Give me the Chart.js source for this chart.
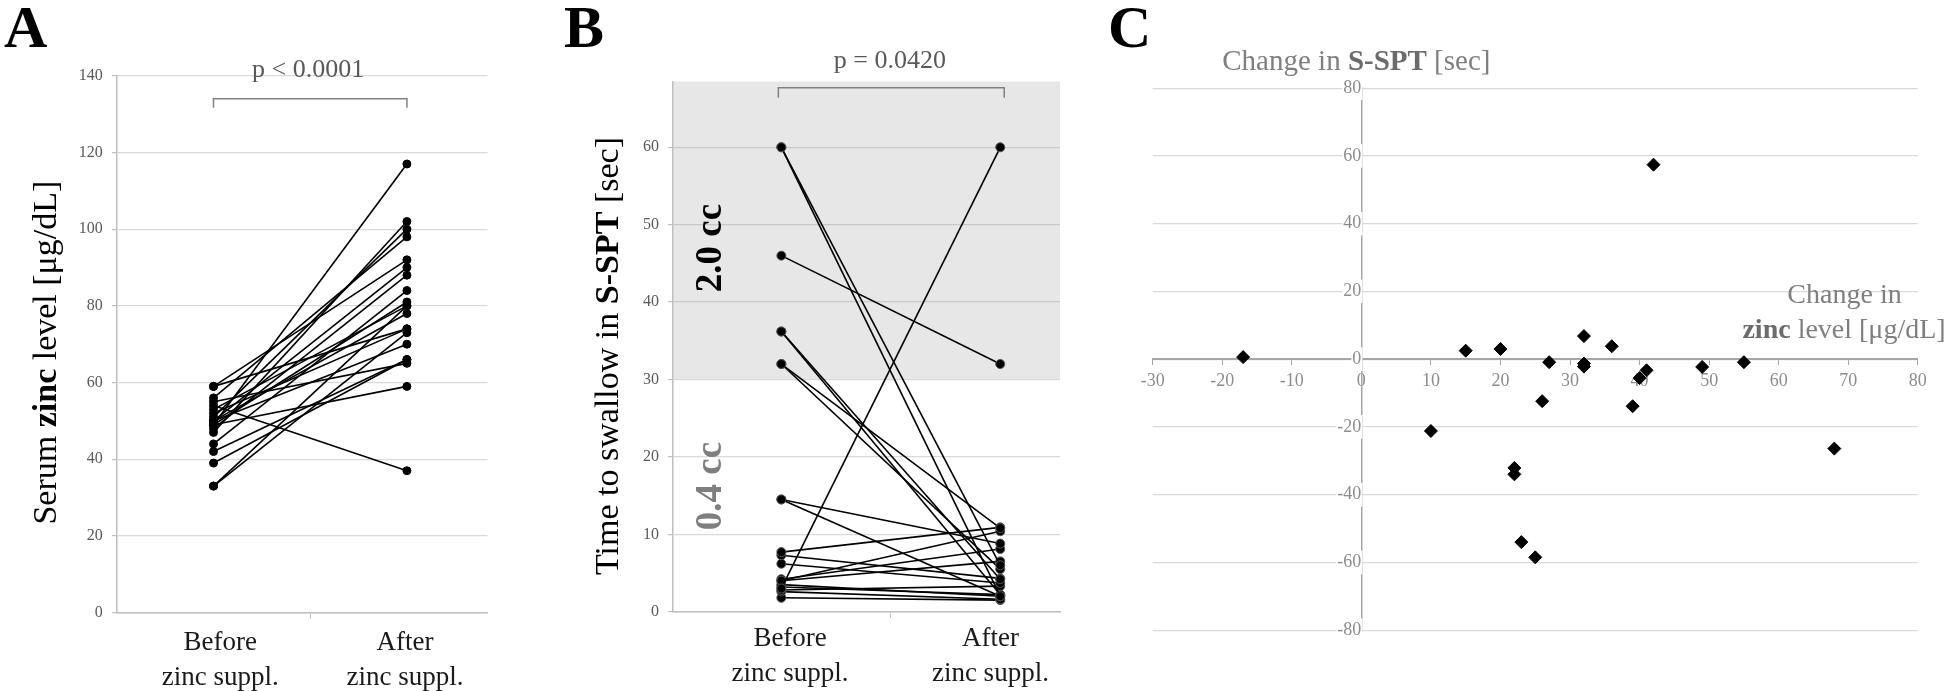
<!DOCTYPE html>
<html>
<head>
<meta charset="utf-8">
<script src="https://cdn.jsdelivr.net/npm/chart.js@4.4.1/dist/chart.umd.min.js"></script>
<style>
  html, body { margin: 0; padding: 0; background: #fff; overflow: hidden; }
  #wrap { position: relative; width: 1946px; height: 691px; background: #fff; }
  canvas { position: absolute; top: 0; }
</style>
</head>
<body>
<div id="wrap">
  <canvas id="ca" width="560" height="691" style="left:0px"></canvas>
  <canvas id="cb" width="550" height="691" style="left:560px"></canvas>
  <canvas id="cc" width="846" height="691" style="left:1100px"></canvas>
</div>
<script>
// ---------------- DATA ----------------
const categoryLines = [['Before', 'zinc suppl.'], ['After', 'zinc suppl.']];

// Panel A: serum zinc [µg/dL], paired (before -> after)
const zincBefore = [49, 47, 51, 56, 59, 50, 48, 44, 49, 33, 53, 50, 59, 52, 33, 50, 42, 39, 55, 49, 54];
const zincAfter  = [117, 102, 100, 98, 92, 90, 88, 84, 81, 80, 80, 78, 74, 74, 73, 70, 66, 66, 65, 59, 37];
const zincTicks = [0, 20, 40, 60, 80, 100, 120, 140];
const pTextA = 'p < 0.0001';

// Panel B: time to swallow in S-SPT [sec], paired
const ssptBefore = [60, 60, 46, 36.2, 36.2, 32, 32, 14.5, 14.5, 3.0, 4.0, 7.7, 7.3, 6.2, 4.2, 4.0, 3.5, 3.2, 2.8, 2.6, 1.8];
const ssptAfter  = [2.0, 6.0, 32, 2.2, 4.2, 10.8, 5.5, 2.0, 8.8, 60, 10.4, 10.9, 4.3, 3.7, 8.1, 6.5, 2.0, 2.2, 3.3, 1.6, 1.5];
const ssptTicks = [0, 10, 20, 30, 40, 50, 60];
const ssptThreshold = 30;     // above: 2.0 cc zone
const pTextB = 'p = 0.0420';

// Panel C: change in zinc vs change in S-SPT
const deltaZinc = [-17, 10, 15, 20, 22, 22, 23, 25, 26, 27, 32, 32, 32, 36, 39, 40, 41, 42, 49, 55, 68];
const deltaSspt = [0.6, -21.2, 2.5, 3.0, -32.1, -34.0, -54.0, -58.5, -12.4, -0.9, 6.8, -1.3, -2.2, 3.8, -13.9, -5.6, -3.3, 57.4, -2.3, -0.9, -26.4];
const deltaZincTicks = [-30, -20, -10, 0, 10, 20, 30, 40, 50, 60, 70, 80];
const deltaSsptTicks = [-80, -60, -40, -20, 0, 20, 40, 60, 80];

// ---------------- HELPERS ----------------
const FONT = "'Liberation Serif', 'Times New Roman', serif";
Chart.defaults.font.family = FONT;

function rich(ctx, parts, x, y, size, align, angle) {
  ctx.save();
  ctx.translate(x, y);
  if (angle) ctx.rotate(angle);
  ctx.textBaseline = 'alphabetic';
  ctx.textAlign = 'left';
  let w = 0;
  parts.forEach(p => {
    ctx.font = (p.b ? 'bold ' : '') + size + 'px ' + FONT;
    p.w = ctx.measureText(p.t).width;
    w += p.w;
  });
  let cx = align === 'center' ? -w / 2 : (align === 'right' ? -w : 0);
  parts.forEach(p => {
    ctx.font = (p.b ? 'bold ' : '') + size + 'px ' + FONT;
    ctx.fillStyle = p.c || '#000';
    ctx.fillText(p.t, cx, 0);
    cx += p.w;
  });
  ctx.restore();
}

function bracket(ctx, x0, x1, y, drop) {
  ctx.save();
  ctx.strokeStyle = '#808080';
  ctx.lineWidth = 1.5;
  ctx.beginPath();
  ctx.moveTo(x0, y + drop);
  ctx.lineTo(x0, y);
  ctx.lineTo(x1, y);
  ctx.lineTo(x1, y + drop);
  ctx.stroke();
  ctx.restore();
}

function pairedDatasets(before, after, ptBorder, r) {
  return before.map((b, i) => ({
    data: [{ x: 0, y: b }, { x: 1, y: after[i] }],
    borderColor: '#000',
    borderWidth: 1.6,
    pointRadius: r,
    pointBackgroundColor: '#000',
    pointBorderColor: ptBorder,
    pointBorderWidth: 1,
    tension: 0
  }));
}

const axisGray = '#bfbfbf';

// ---------------- PANEL A ----------------
const labelPosA = [0.035, 0.99];
const panelA = {
  id: 'panelA',
  afterDraw(chart) {
    const ctx = chart.ctx, xs = chart.scales.x, ys = chart.scales.y;
    rich(ctx, [{ t: 'A', b: 1 }], 4, 47, 60, 'left');
    const x0 = xs.getPixelForValue(0), x1 = xs.getPixelForValue(1);
    rich(ctx, [{ t: pTextA, c: '#595959' }], (x0 + x1) / 2 - 2, 76.5, 26, 'center');
    bracket(ctx, x0, x1, ys.getPixelForValue(134), 9);
    rich(ctx, [{ t: 'Serum ' }, { t: 'zinc', b: 1 }, { t: ' level [μg/dL]' }], 55.5, 352.6, 34, 'center', -Math.PI / 2);
    categoryLines.forEach((lines, i) => {
      const x = xs.getPixelForValue(labelPosA[i]);
      rich(ctx, [{ t: lines[0], c: '#1a1a1a' }], x, 650, 27, 'center');
      rich(ctx, [{ t: lines[1], c: '#1a1a1a' }], x, 685, 27, 'center');
    });
  }
};

new Chart(document.getElementById('ca'), {
  type: 'line',
  data: { datasets: pairedDatasets(zincBefore, zincAfter, '#000', 4) },
  options: {
    responsive: false, animation: false, devicePixelRatio: 1,
    layout: { padding: { left: 0, top: 75.8, right: 72.5, bottom: 0 } },
    plugins: { legend: { display: false }, tooltip: { enabled: false } },
    scales: {
      x: {
        type: 'linear', min: -0.5, max: 1.4167,
        afterBuildTicks: s => { s.ticks = [{ value: 0.5 }]; },
        ticks: { display: false },
        grid: { drawOnChartArea: false, drawTicks: true, tickLength: 6, tickColor: axisGray },
        border: { color: axisGray, width: 1.5 },
        afterFit: s => { s.height = 78.4; }
      },
      y: {
        min: 0, max: 140,
        afterBuildTicks: s => { s.ticks = zincTicks.map(v => ({ value: v })); },
        ticks: { font: { family: FONT, size: 16 }, color: '#595959', padding: 9 },
        grid: { color: '#d9d9d9', lineWidth: 1.2, tickLength: 5, tickColor: axisGray },
        border: { color: axisGray, width: 1.5 },
        afterFit: s => { s.width = 116.8; }
      }
    }
  },
  plugins: [panelA]
});

// ---------------- PANEL B ----------------
const labelPosB = [0.04, 0.955];
const panelB = {
  id: 'panelB',
  beforeDraw(chart) {
    const ctx = chart.ctx, ys = chart.scales.y, a = chart.chartArea;
    const yTop = ys.getPixelForValue(ys.max), yBot = ys.getPixelForValue(ssptThreshold);
    ctx.save();
    ctx.fillStyle = '#e7e7e7';
    ctx.fillRect(a.left, yTop, a.right - a.left, yBot - yTop);
    ctx.restore();
  },
  afterDraw(chart) {
    const ctx = chart.ctx, xs = chart.scales.x, ys = chart.scales.y;
    rich(ctx, [{ t: 'B', b: 1 }], 4, 47, 60, 'left');
    const x0 = xs.getPixelForValue(0), x1 = xs.getPixelForValue(1);
    rich(ctx, [{ t: pTextB, c: '#595959' }], (x0 + x1) / 2 - 1, 68.3, 26, 'center');
    bracket(ctx, x0 - 3, x1 + 4, ys.getPixelForValue(67.7), 10);
    rich(ctx, [{ t: 'Time to swallow in ' }, { t: 'S-SPT', b: 1 }, { t: ' [sec]' }], 57.5, 356, 34, 'center', -Math.PI / 2);
    rich(ctx, [{ t: '2.0 cc', b: 1, c: '#000' }], 160.7, 248, 37, 'center', -Math.PI / 2);
    rich(ctx, [{ t: '0.4 cc', b: 1, c: '#7f7f7f' }], 160.7, 486, 37, 'center', -Math.PI / 2);
    categoryLines.forEach((lines, i) => {
      const x = xs.getPixelForValue(labelPosB[i]);
      rich(ctx, [{ t: lines[0], c: '#1a1a1a' }], x, 645.6, 27, 'center');
      rich(ctx, [{ t: lines[1], c: '#1a1a1a' }], x, 681, 27, 'center');
    });
  }
};

new Chart(document.getElementById('cb'), {
  type: 'line',
  data: { datasets: pairedDatasets(ssptBefore, ssptAfter, '#555', 4.5) },
  options: {
    responsive: false, animation: false, devicePixelRatio: 1,
    layout: { padding: { left: 0, top: 81.5, right: 50, bottom: 0 } },
    plugins: { legend: { display: false }, tooltip: { enabled: false } },
    scales: {
      x: {
        type: 'linear', min: -0.495, max: 1.273,
        afterBuildTicks: s => { s.ticks = [{ value: 0.5 }]; },
        ticks: { display: false },
        grid: { drawOnChartArea: false, drawTicks: true, tickLength: 6, tickColor: axisGray },
        border: { color: axisGray, width: 1.5 },
        afterFit: s => { s.height = 691 - 611.7; }
      },
      y: {
        min: 0, max: 68.5,
        afterBuildTicks: s => { s.ticks = ssptTicks.map(v => ({ value: v })); },
        ticks: { font: { family: FONT, size: 16 }, color: '#595959', padding: 9 },
        grid: {
          color: c => (c.tick && c.tick.value >= ssptThreshold + 1 ? '#c8c8c8' : '#d9d9d9'),
          lineWidth: 1.2, tickLength: 5, tickColor: axisGray
        },
        border: { color: axisGray, width: 1.5 },
        afterFit: s => { s.width = 113; }
      }
    }
  },
  plugins: [panelB]
});

// ---------------- PANEL C ----------------
const panelC = {
  id: 'panelC',
  afterDraw(chart) {
    const ctx = chart.ctx, xs = chart.scales.x;
    rich(ctx, [{ t: 'C', b: 1 }], 8, 47, 60, 'left');
    rich(ctx, [{ t: 'Change in ', c: '#7f7f7f' }, { t: 'S-SPT', b: 1, c: '#6b6b6b' }, { t: ' [sec]', c: '#7f7f7f' }],
      xs.getPixelForValue(0) - 5, 70, 29, 'center');
    rich(ctx, [{ t: 'Change in', c: '#7f7f7f' }], 744.5, 303.3, 28, 'center');
    rich(ctx, [{ t: 'zinc', b: 1, c: '#6b6b6b' }, { t: ' level [μg/dL]', c: '#7f7f7f' }], 744, 338.3, 28, 'center');
  }
};

new Chart(document.getElementById('cc'), {
  type: 'scatter',
  data: {
    datasets: [{
      data: deltaZinc.map((x, i) => ({ x: x, y: deltaSspt[i] })),
      pointStyle: 'rectRot',
      pointRadius: 6.5,
      backgroundColor: '#000',
      borderColor: '#000',
      borderWidth: 1
    }]
  },
  options: {
    responsive: false, animation: false, devicePixelRatio: 1,
    layout: { padding: { left: 52.7, top: 88.1, right: 28.2, bottom: 60.8 } },
    plugins: { legend: { display: false }, tooltip: { enabled: false } },
    scales: {
      x: {
        type: 'linear', position: { y: 0 }, min: -30, max: 80,
        afterBuildTicks: s => { s.ticks = deltaZincTicks.map(v => ({ value: v })); },
        ticks: { font: { family: FONT, size: 18 }, color: '#8c8c8c', padding: 6, maxRotation: 0 },
        grid: { drawOnChartArea: false, drawTicks: true, tickLength: 5, tickColor: '#a6a6a6' },
        border: { color: '#a6a6a6', width: 2 }
      },
      y: {
        type: 'linear', position: { x: 0 }, min: -80, max: 80,
        afterBuildTicks: s => { s.ticks = deltaSsptTicks.map(v => ({ value: v })); },
        ticks: {
          font: { family: FONT, size: 18 }, color: '#8c8c8c', padding: 9,
          showLabelBackdrop: true, backdropColor: '#ffffff', backdropPadding: 1
        },
        grid: { color: '#d9d9d9', lineWidth: 1.2, drawTicks: true, tickLength: 6, tickColor: '#a6a6a6' },
        border: { color: '#a6a6a6', width: 1.5 }
      }
    }
  },
  plugins: [panelC]
});
</script>
</body>
</html>
